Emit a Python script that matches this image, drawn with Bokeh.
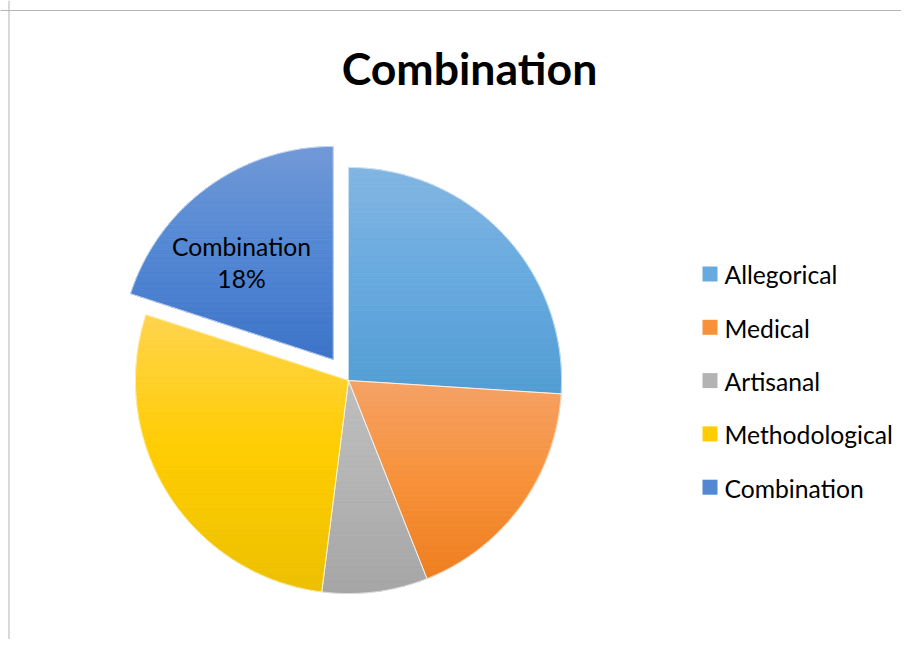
import numpy as np
from bokeh.plotting import figure
from bokeh.models import Range1d, Span
from bokeh.embed import file_html
from bokeh.resources import INLINE
from bokeh.core.properties import value

# ---------------- data ----------------
title_text = "Combination"
categories = ["Allegorical", "Medical", "Artisanal", "Methodological", "Combination"]
shares = [26, 18, 8, 28, 20]
exploded = [0, 0, 0, 0, 1]
labelled_category = "Combination"
labelled_pct = "18%"

top_colors = ["#82B5E2", "#F5A266", "#BFBFBF", "#FFD44E", "#7299D7"]
mid_colors = ["#67AADF", "#F7913A", "#B3B3B3", "#FFCC00", "#5287D4"]
bot_colors = ["#519DD4", "#EE7F20", "#A6A6A6", "#ECC000", "#3D74C8"]

# ---------------- layout (pixel-like data units) ----------------
W, H = 901, 639
FONT = "Lato"
TXT_SHIFT = 10.0     # baseline correction for 24.7px text
TITLE_SHIFT = 17.5   # baseline correction for title

p = figure(width=W, height=H, x_range=Range1d(0, W), y_range=Range1d(0, H),
           output_backend="svg", toolbar_location=None, min_border=0,
           x_axis_location=None, y_axis_location=None)
p.grid.visible = False
p.outline_line_color = None
p.background_fill_color = "white"
p.border_fill_color = "white"

# chart border (top & left visible)
p.add_layout(Span(location=629, dimension="width", line_color="#B4B4B4", line_width=1))
p.add_layout(Span(location=8.5, dimension="height", line_color="#B4B4B4", line_width=1))

cx, cy, R, EXPL = 348.0, 259.0, 213.0, 26.0


def hex2rgb(h):
    h = h.lstrip("#")
    return np.array([int(h[i:i + 2], 16) for i in (0, 2, 4)], dtype=float)


def rgb2hex(c):
    c = np.clip(np.round(c), 0, 255).astype(int)
    return "#%02x%02x%02x" % tuple(c)


def grad(f, c0, c1, c2):
    a, b, c = hex2rgb(c0), hex2rgb(c1), hex2rgb(c2)
    if f <= 0.5:
        return rgb2hex(a + (b - a) * (f / 0.5))
    return rgb2hex(b + (c - b) * ((f - 0.5) / 0.5))


def clip(poly, y0, keep_above):
    out = []
    n = len(poly)
    for j in range(n):
        P = poly[j]
        Q = poly[(j + 1) % n]
        inP = P[1] >= y0 if keep_above else P[1] <= y0
        inQ = Q[1] >= y0 if keep_above else Q[1] <= y0
        if inP:
            out.append(P)
        if inP != inQ:
            t = (y0 - P[1]) / (Q[1] - P[1])
            out.append((P[0] + t * (Q[0] - P[0]), y0))
    return out


total = float(sum(shares))
start = 90.0
band_xs, band_ys, band_cols = [], [], []
edge_xs, edge_ys = [], []
label_pos = None
for i, v in enumerate(shares):
    span = 360.0 * v / total
    a0, a1 = start, start - span
    mid = np.radians((a0 + a1) / 2)
    ox = cx + exploded[i] * EXPL * np.cos(mid)
    oy = cy + exploded[i] * EXPL * np.sin(mid)
    t = np.radians(np.linspace(a0, a1, 160))
    px = np.concatenate([[ox], ox + R * np.cos(t)])
    py = np.concatenate([[oy], oy + R * np.sin(t)])
    edge_xs.append(list(px))
    edge_ys.append(list(py))
    poly = list(zip(px, py))
    ymin, ymax = py.min(), py.max()
    nb = max(int((ymax - ymin) / 2.5), 2)
    edges = np.linspace(ymax, ymin, nb + 1)
    for k in range(nb):
        yt, yb = edges[k], edges[k + 1]
        piece = clip(clip(poly, yt, False), yb, True)
        if len(piece) < 3:
            continue
        f = (k + 0.5) / nb
        band_xs.append([q[0] for q in piece])
        band_ys.append([q[1] for q in piece])
        band_cols.append(grad(f, top_colors[i], mid_colors[i], bot_colors[i]))
    if categories[i] == labelled_category:
        la = mid + np.radians(10.5)
        label_pos = (ox + 126.4 * np.cos(la), oy + 126.4 * np.sin(la))
    start = a1

p.patches(xs=band_xs, ys=band_ys, fill_color=band_cols, line_color=band_cols, line_width=0.9)
p.patches(xs=edge_xs, ys=edge_ys, fill_color=None, line_color="white", line_width=1, line_alpha=0.6)

# data label (two lines)
if label_pos is not None:
    p.text(x=[label_pos[0], label_pos[0]],
           y=[label_pos[1] + 16 + TXT_SHIFT, label_pos[1] - 16 + TXT_SHIFT],
           text=[labelled_category, labelled_pct],
           text_align="center", text_baseline="alphabetic", text_font=value(FONT),
           text_font_size="24.7px", text_color="#000000")

# title
p.text(x=[469], y=[555 + TITLE_SHIFT], text=[title_text], text_align="center",
       text_baseline="alphabetic", text_font=value(FONT), text_font_style="bold",
       text_font_size="44.6px", text_color="#000000")

# legend
leg_step = 53.3
sw_x = [709.5] * len(categories)
sw_y = [365.5 - k * leg_step for k in range(len(categories))]
tx_x = [724.0] * len(categories)
tx_y = [354.7 + TXT_SHIFT - k * leg_step for k in range(len(categories))]
p.rect(x=sw_x, y=sw_y, width=15, height=15, width_units="screen", height_units="screen",
       fill_color=mid_colors, line_color=None)
p.text(x=tx_x, y=tx_y, text=categories, text_align="left", text_baseline="alphabetic",
       text_font=value(FONT), text_font_size="24.7px", text_color="#000000")

open("out.html", "w").write(file_html(p, INLINE))
